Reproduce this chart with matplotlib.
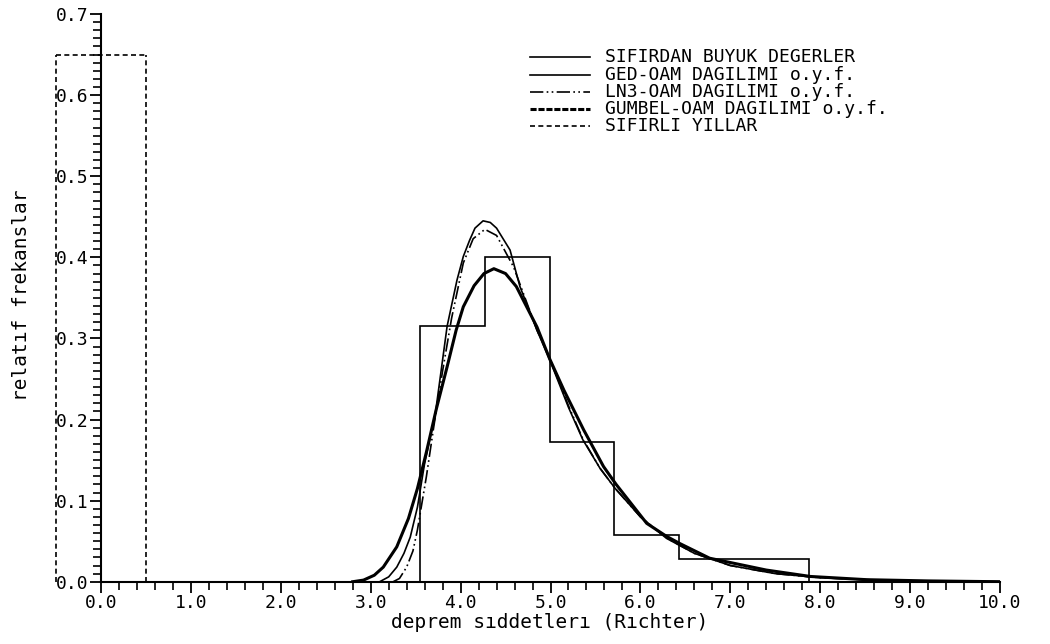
import matplotlib.pyplot as plt
from matplotlib.lines import Line2D
from matplotlib.ticker import MultipleLocator, FixedLocator, FormatStrFormatter

# histogram of non-zero years (bin edges and relative frequencies)
bin_edges = [3.55, 4.27, 4.99, 5.71, 6.43, 7.15, 7.87]
bin_freqs = [0.315, 0.400, 0.172, 0.057, 0.028, 0.028]

# years with zero (single dashed bar)
zero_edges = [-0.5, 0.5]
zero_freq = [0.65]

# fitted densities, points
ged_x = [3.10, 3.20, 3.29, 3.37, 3.44, 3.52, 3.60, 3.72, 3.85, 3.96, 4.03, 4.10,
         4.16, 4.25, 4.33, 4.40, 4.55, 4.66, 4.85, 4.99, 5.20, 5.36, 5.55, 5.72,
         6.00, 6.29, 6.60, 7.00, 7.50, 8.00, 8.50, 9.00, 10.0]
ged_y = [0.000, 0.006, 0.018, 0.035, 0.055, 0.092, 0.146, 0.208, 0.315, 0.372, 0.401, 0.421,
         0.436, 0.445, 0.443, 0.436, 0.409, 0.364, 0.310, 0.274, 0.215, 0.175, 0.140, 0.115,
         0.080, 0.0535, 0.035, 0.020, 0.010, 0.005, 0.0025, 0.001, 0.000]

ln3_x = [3.25, 3.32, 3.40, 3.47, 3.52, 3.57, 3.62, 3.70, 3.80, 3.90, 4.03, 4.14,
         4.27, 4.40, 4.59, 4.70, 4.85, 4.99, 5.20, 5.36, 5.55, 5.72, 6.00, 6.29,
         6.60, 7.00, 7.50, 8.00, 8.50, 9.00, 10.0]
ln3_y = [0.000, 0.004, 0.018, 0.038, 0.064, 0.097, 0.130, 0.190, 0.260, 0.325, 0.393, 0.423,
         0.4345, 0.427, 0.388, 0.355, 0.310, 0.276, 0.217, 0.176, 0.140, 0.115, 0.080, 0.054,
         0.035, 0.020, 0.010, 0.005, 0.0025, 0.001, 0.000]

gumbel_x = [2.80, 2.92, 3.04, 3.14, 3.29, 3.42, 3.52, 3.62, 3.73, 3.85, 3.95, 4.03,
            4.15, 4.26, 4.37, 4.50, 4.62, 4.85, 4.99, 5.15, 5.37, 5.59, 5.73, 6.07,
            6.29, 6.44, 6.77, 7.40, 7.89, 8.52, 9.20, 10.0]
gumbel_y = [0.000, 0.002, 0.008, 0.018, 0.043, 0.078, 0.115, 0.160, 0.213, 0.265, 0.310, 0.339,
            0.365, 0.380, 0.386, 0.380, 0.364, 0.314, 0.275, 0.236, 0.187, 0.142, 0.120, 0.072,
            0.056, 0.047, 0.029, 0.0144, 0.0065, 0.0025, 0.001, 0.000]

x_major = [0, 1, 2, 3, 4, 5, 6, 7, 8, 9, 10]
x_minor = [i / 5 for i in range(51)]

legend_labels = [
    "SIFIRDAN BUYUK DEGERLER",
    "GED-OAM DAGILIMI o.y.f.",
    "LN3-OAM DAGILIMI o.y.f.",
    "GUMBEL-OAM DAGILIMI o.y.f.",
    "SIFIRLI YILLAR",
]

FONT = "DejaVu Sans Mono"
FS = 13

styles = [
    dict(color="black", lw=1.2, linestyle="-"),
    dict(color="black", lw=1.2, linestyle="-"),
    dict(color="black", lw=1.2, linestyle=(0, (8, 2, 1, 2, 1, 2))),
    dict(color="black", lw=2.2, linestyle=(0, (2, 0.6))),
    dict(color="black", lw=1.2, linestyle=(0, (3, 2))),
]


def main() -> None:
    plt.rcParams["font.family"] = [FONT, "DejaVu Sans"]
    fig = plt.figure(figsize=(10.5, 6.44), dpi=100)
    ax = fig.add_axes([0.0448, 0.0967, 0.9076, 0.8815])

    ax.stairs(bin_freqs, bin_edges, baseline=0, **styles[0])
    ax.stairs(zero_freq, zero_edges, baseline=None, **styles[4])
    ax.plot([zero_edges[0], zero_edges[0]], [0, zero_freq[0]], **styles[4])
    ax.plot([zero_edges[1], zero_edges[1]], [0, zero_freq[0]], **styles[4])
    ax.plot(ged_x, ged_y, **styles[1])
    ax.plot(ln3_x, ln3_y, **styles[2])
    ax.plot(gumbel_x, gumbel_y, color="black", lw=2.2)

    ax.set_xlim(-0.6, 10.0)
    ax.set_ylim(0, 0.7)
    ax.spines["top"].set_visible(False)
    ax.spines["right"].set_visible(False)
    ax.spines["left"].set_position(("data", 0))
    ax.spines["left"].set_bounds(0, 0.7)
    ax.spines["bottom"].set_bounds(0, 10)
    for sp in ("left", "bottom"):
        ax.spines[sp].set_linewidth(1.5)

    ax.xaxis.set_major_locator(FixedLocator(x_major))
    ax.xaxis.set_minor_locator(FixedLocator(x_minor))
    ax.yaxis.set_major_locator(MultipleLocator(0.1))
    ax.yaxis.set_minor_locator(MultipleLocator(0.01))
    ax.xaxis.set_major_formatter(FormatStrFormatter("%.1f"))
    ax.yaxis.set_major_formatter(FormatStrFormatter("%.1f"))
    ax.tick_params(which="major", length=8, width=1.3, direction="out", labelsize=FS, pad=1)
    ax.tick_params(which="minor", length=6, width=1.2, direction="out")

    fig.text(550 / 1050, 1 - 623 / 644, "deprem sıddetlerı (Rıchter)", fontsize=FS + 1,
             ha="center", va="center")
    fig.text(22 / 1050, 1 - 295 / 644, "relatıf frekanslar", fontsize=FS + 1,
             ha="center", va="center", rotation=90)

    # legend drawn by hand to keep the tight row spacing of the original
    rows_y = [57, 75, 92, 109, 126]
    for label, st, y in zip(legend_labels, styles, rows_y):
        yf = 1 - y / 644
        fig.add_artist(Line2D([530 / 1050, 590 / 1050], [yf, yf], **st))
        fig.text(605 / 1050, yf, label, fontsize=FS, ha="left", va="center")

    fig.savefig("out.png", dpi=100)
    plt.close(fig)


if __name__ == "__main__":
    main()
